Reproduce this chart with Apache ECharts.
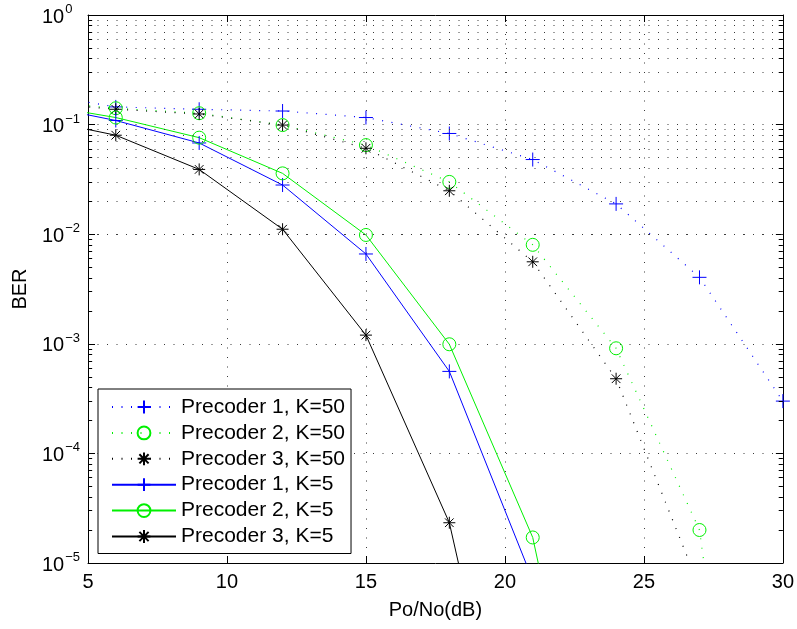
<!DOCTYPE html>
<html>
<head>
<meta charset="utf-8">
<script src="https://cdn.jsdelivr.net/npm/echarts@6/dist/echarts.min.js"></script>
<style>
html,body{margin:0;padding:0;background:#fff;}
#chart{width:797px;height:629px;}
</style>
</head>
<body>
<div id="chart"></div>
<script>
// SNR points (dB). The x=3 point lies left of the visible axis and is clipped.
var snr = [3, 6, 9, 12, 15, 18, 21, 24, 27, 30];

var p1K50 = [0.195, 0.145, 0.138, 0.133, 0.116, 0.083, 0.048, 0.0189, 0.00404, 3.0e-4];
var p2K50 = [0.164, 0.141, 0.127, 0.099, 0.065, 0.030, 0.0080, 9.1e-4, 2.0e-5, 5e-11];
var p3K50 = [0.160, 0.138, 0.125, 0.099, 0.0608, 0.0249, 0.0056, 4.8e-4, 6e-6, 1e-9];
var p1K5  = [0.155, 0.109, 0.068, 0.0281, 0.0066, 5.6e-4, 7e-6, null, null, null];
var p2K5  = [0.156, 0.116, 0.076, 0.0359, 0.00984, 9.9e-4, 1.71e-5, 5e-9, null, null];
var p3K5  = [0.115, 0.080, 0.039, 0.0111, 1.2e-3, 2.33e-5, 1e-8, null, null, null];

var seriesNames = ['Precoder 1, K=50', 'Precoder 2, K=50', 'Precoder 3, K=50',
                   'Precoder 1, K=5', 'Precoder 2, K=5', 'Precoder 3, K=5'];

var xTicks = [5, 10, 15, 20, 25, 30];
var yDecades = [1e-5, 1e-4, 1e-3, 1e-2, 1e-1, 1];
var yMinorTicks = [];
for (var d = 0; d < yDecades.length - 1; d++) {
  for (var m = 2; m <= 9; m++) yMinorTicks.push(m * yDecades[d]);
}

var FONT = 'Liberation Sans';
var PLUS = 'path://M0,-1L0,1M-1,0L1,0';
var CIRC = 'path://M1,0A1,1,0,1,1,-1,0A1,1,0,1,1,1,0Z';
var STAR = 'path://M0,-1L0,1M-1,0L1,0M-0.72,-0.72L0.72,0.72M-0.72,0.72L0.72,-0.72';
var DOTS = [1, 8.5];
var GRIDDOT = {color: '#3a3a3a', width: 1, type: [1, 8.5]};

function zip(xs, ys) {
  var out = [];
  for (var i = 0; i < xs.length; i++) out.push([xs[i], ys[i]]);
  return out;
}

function mk(name, ys, color, symbol, size, dotted) {
  return {
    name: name, type: 'line', xAxisIndex: 0, yAxisIndex: 0,
    data: zip(snr, ys),
    symbol: symbol, symbolSize: size, showSymbol: true, showAllSymbol: true,
    clip: true, connectNulls: false, z: 3,
    lineStyle: {color: color, width: dotted ? 1.2 : 1, type: dotted ? DOTS : 'solid'},
    itemStyle: {color: 'rgba(0,0,0,0)', borderColor: color, borderWidth: 1},
    emphasis: {disabled: true}
  };
}

var minorTickSegs = [];
yMinorTicks.forEach(function (v) {
  minorTickSegs.push([{coord: [5, v]}, {coord: [5.15, v]}]);
  minorTickSegs.push([{coord: [29.85, v]}, {coord: [30, v]}]);
});

var chart = echarts.init(document.getElementById('chart'), null, {renderer: 'canvas'});
chart.setOption({
  animation: false,
  backgroundColor: '#fff',
  textStyle: {fontFamily: FONT},
  grid: {left: 88, right: 14, top: 15, bottom: 66, show: false},
  legend: {
    data: seriesNames,
    orient: 'vertical', left: 98, top: 389,
    itemWidth: 64, itemHeight: 16, itemGap: 3.9,
    padding: [7, 6, 6, 13],
    backgroundColor: '#fff', borderColor: '#000', borderWidth: 1,
    selectedMode: false,
    textStyle: {fontSize: 21, lineHeight: 22, color: '#000', fontFamily: FONT}
  },
  xAxis: [{
    type: 'value', min: 5, max: 30, interval: 5, position: 'bottom',
    axisLine: {show: true, onZero: false, lineStyle: {color: '#000', width: 1}},
    axisTick: {show: true, inside: true, length: 7, lineStyle: {color: '#000'}},
    axisLabel: {fontSize: 20, color: '#000', margin: 9, fontFamily: FONT},
    splitLine: {show: true, lineStyle: GRIDDOT},
    name: 'Po/No(dB)', nameLocation: 'middle', nameGap: 37,
    nameTextStyle: {fontSize: 20, color: '#000', fontFamily: FONT}
  }, {
    type: 'value', min: 5, max: 30, interval: 5, position: 'top',
    axisLine: {show: true, onZero: false, lineStyle: {color: '#000', width: 1}},
    axisTick: {show: true, inside: true, length: 7, lineStyle: {color: '#000'}},
    axisLabel: {show: false}, splitLine: {show: false}
  }],
  yAxis: [{
    type: 'log', logBase: 10, min: 1e-5, max: 1, splitNumber: 5, position: 'left',
    axisLine: {show: true, onZero: false, lineStyle: {color: '#000', width: 1}},
    axisTick: {show: true, inside: true, length: 7, lineStyle: {color: '#000'}},
    axisLabel: {
      align: 'left', margin: 46, color: '#000',
      formatter: function (v) {
        var e = Math.round(Math.log(v) / Math.LN10);
        var s = e < 0 ? '\u2212' + (-e) : String(e);
        return '{b|10}{s|' + s + '}';
      },
      rich: {
        b: {fontSize: 20, fontFamily: FONT, color: '#000', padding: [4, 0, 0, 0]},
        s: {fontSize: 13, fontFamily: FONT, color: '#000', verticalAlign: 'top', padding: [0, 0, 0, 1]}
      }
    },
    splitLine: {show: true, lineStyle: GRIDDOT},
    name: 'BER', nameLocation: 'middle', nameGap: 58,
    nameTextStyle: {fontSize: 20, color: '#000', fontFamily: FONT}
  }, {
    type: 'log', logBase: 10, min: 1e-5, max: 1, splitNumber: 5, position: 'right',
    axisLine: {show: true, onZero: false, lineStyle: {color: '#000', width: 1}},
    axisTick: {show: true, inside: true, length: 7, lineStyle: {color: '#000'}},
    axisLabel: {show: false}, splitLine: {show: false}
  }],
  series: [
    {
      name: 'grid-helper', type: 'line', xAxisIndex: 0, yAxisIndex: 0,
      data: [[5, 1e-9]], symbol: 'none', lineStyle: {opacity: 0}, z: 1, silent: true,
      markLine: {
        silent: true, symbol: ['none', 'none'], label: {show: false},
        lineStyle: GRIDDOT, emphasis: {disabled: true},
        data: yMinorTicks.map(function (v) { return {yAxis: v}; })
      }
    },
    {
      name: 'tick-helper', type: 'line', xAxisIndex: 0, yAxisIndex: 0,
      data: [[5, 1e-9]], symbol: 'none', lineStyle: {opacity: 0}, z: 4, silent: true,
      markLine: {
        silent: true, symbol: ['none', 'none'], label: {show: false},
        lineStyle: {color: '#000', width: 1, type: 'solid'}, emphasis: {disabled: true},
        data: minorTickSegs
      }
    },
    mk(seriesNames[0], p1K50, '#0000ff', PLUS, 14, true),
    mk(seriesNames[1], p2K50, '#00f000', CIRC, 13, true),
    mk(seriesNames[2], p3K50, '#000000', STAR, 12, true),
    mk(seriesNames[3], p1K5, '#0000ff', PLUS, 14, false),
    mk(seriesNames[4], p2K5, '#00f000', CIRC, 13, false),
    mk(seriesNames[5], p3K5, '#000000', STAR, 12, false)
  ]
});
</script>
</body>
</html>
